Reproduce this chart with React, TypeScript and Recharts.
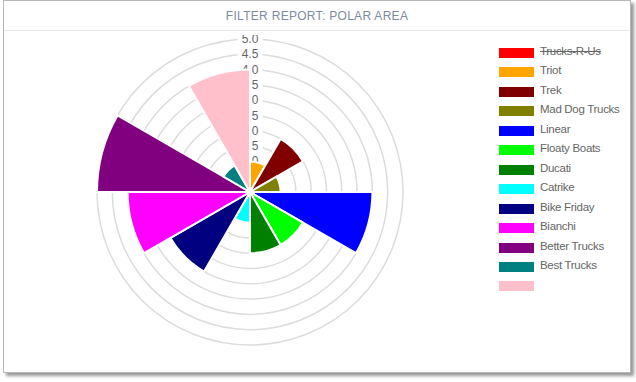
import React from 'react';
import { RadialBarChart, RadialBar, PolarGrid, PolarAngleAxis, PolarRadiusAxis, Cell } from 'recharts';

const labels = ['Trucks-R-Us', 'Triot', 'Trek', 'Mad Dog Trucks', 'Linear', 'Floaty Boats', 'Ducati', 'Catrike', 'Bike Friday', 'Bianchi', 'Better Trucks', 'Best Trucks', ''];
const values = [3, 1, 2, 1, 4, 2, 2, 1, 3, 4, 5, 1, 4];
const colors = ['#FF0000', '#FFA500', '#800000', '#808000', '#0000FF', '#00FF00', '#008000', '#00FFFF', '#000080', '#FF00FF', '#800080', '#008080', '#FFC0CB'];
const hidden = [true, false, false, false, false, false, false, false, false, false, false, false, false];
const radiusTicks = [0, 0.5, 1, 1.5, 2, 2.5, 3, 3.5, 4, 4.5, 5];
const title = 'FILTER REPORT: POLAR AREA';

const all = labels.map((name, i) => ({ name: name || ' ' + i, value: values[i], color: colors[i], hidden: hidden[i] }));
const data = all.filter((d) => !d.hidden);

const RadiusTick = (props: any) => {
  const { x, y, payload } = props;
  const txt = payload.value === 0 ? '0' : Number(payload.value).toFixed(1);
  const w = txt.length * 7 + 4;
  return (
    <g>
      <rect x={x - w / 2} y={y - 8} width={w} height={16} fill="#fff" />
      <text x={x} y={y} dy={4} textAnchor="middle" fontSize={12} fill="#666" fontFamily="'Liberation Sans', Arial, sans-serif">{txt}</text>
    </g>
  );
};

const chartProps = {
  width: 500,
  height: 370,
  data,
  layout: 'centric' as const,
  cx: 249,
  cy: 191,
  innerRadius: 0,
  outerRadius: 153,
  startAngle: 60,
  endAngle: -300,
  barCategoryGap: 0,
  barGap: 0,
  margin: { top: 0, right: 0, bottom: 0, left: 0 },
};

export default function App() {
  return (
    <div style={{ position: 'fixed', left: 0, top: 0, width: 636, height: 382, background: '#fff', fontFamily: "'Liberation Sans', Arial, sans-serif" }}>
      <div style={{ position: 'absolute', left: 3, top: 0, width: 626, height: 371, border: '1px solid #b8b8b8', boxShadow: '3px 3px 3px #999', background: '#fff' }}>
        <div style={{ position: 'absolute', left: 0, top: 8, width: 626, textAlign: 'center', fontSize: 12, color: '#7d8ba1', letterSpacing: 0.3 }}>{title}</div>
        <div style={{ position: 'absolute', left: 0, top: 29, width: 626, height: 1, background: '#e8e8e8' }} />
        <div style={{ position: 'absolute', left: -3, top: 34, width: 500, height: 336, overflow: 'hidden' }}>
          <div style={{ position: 'absolute', left: 0, top: -34 }}>
            <RadialBarChart {...chartProps}>
              <PolarGrid gridType="circle" radialLines={false} stroke="#dcdcdc" strokeWidth={1.5} />
              <PolarAngleAxis type="category" dataKey="name" tick={false} axisLine={false} tickLine={false} />
              <PolarRadiusAxis type="number" domain={[0, 5]} ticks={radiusTicks} angle={90} axisLine={false} tickLine={false} tick={<RadiusTick />} />
              <RadialBar dataKey="value" isAnimationActive={false} fill="none" fillOpacity={0} stroke="none" />
            </RadialBarChart>
          </div>
          <div style={{ position: 'absolute', left: 0, top: -34 }}>
            <RadialBarChart {...chartProps}>
              <PolarAngleAxis type="category" dataKey="name" tick={false} axisLine={false} tickLine={false} />
              <PolarRadiusAxis type="number" domain={[0, 5]} ticks={radiusTicks} angle={90} axisLine={false} tickLine={false} tick={false} />
              <RadialBar dataKey="value" isAnimationActive={false} stroke="#fff" strokeWidth={2}>
                {data.map((d, i) => (
                  <Cell key={i} fill={d.color} />
                ))}
              </RadialBar>
            </RadialBarChart>
          </div>
        </div>
        <div style={{ position: 'absolute', left: 495, top: 45 }}>
          {all.map((d, i) => (
            <div key={i} style={{ position: 'absolute', left: 0, top: i * 19.45, height: 12, width: 130, whiteSpace: 'nowrap' }}>
              <div style={{ position: 'absolute', left: 0, top: 2, width: 35, height: 10, background: d.color }} />
              <span style={{ position: 'absolute', left: 41, top: -1, fontSize: 11.5, letterSpacing: -0.3, color: '#666', textDecoration: d.hidden ? 'line-through' : 'none' }}>{labels[i]}</span>
            </div>
          ))}
        </div>
      </div>
    </div>
  );
}
